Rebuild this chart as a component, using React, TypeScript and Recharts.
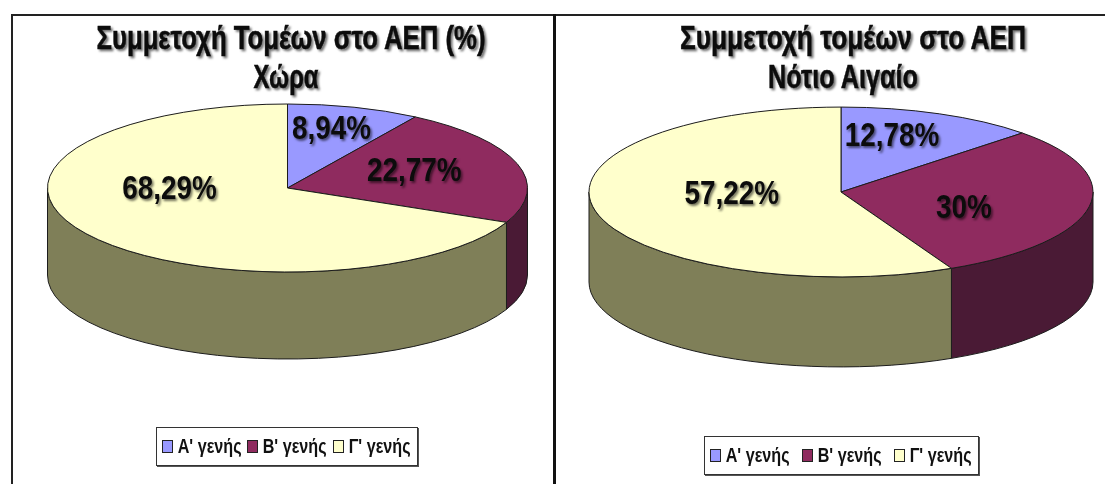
import { Legend, Pie, PieChart } from "recharts";

const categories = ["Α' γενής", "Β' γενής", "Γ' γενής"];
const countryShares = [8.94, 22.77, 68.29];
const aegeanShares = [12.78, 30, 57.22];

const topColors = ["#9999ff", "#8f2b5f", "#ffffcc"];
const sideColors = ["#4c4c80", "#4a1a35", "#7f7f58"];

const FONT = "'Liberation Sans', Arial, sans-serif";
const SHADOW = "drop-shadow(2px 2px 1.2px rgba(0,0,0,0.55))";

const toTable = (values: number[]) =>
  categories.map((name, i) => ({ name, value: values[i], fill: topColors[i] }));

const formatShare = (v: number) => `${String(v).replace(".", ",")}%`;

// Flattened pie slice: recharts gives the angles, we squash them on to an ellipse
function Slice(props: any) {
  const { cx, cy, outerRadius: rx, startAngle, endAngle, index, tilt, depth } = props;
  const ry = rx * tilt;
  const b0 = 90 - startAngle;
  const b1 = 90 - endAngle;
  const pt = (b: number, dy = 0) => {
    const r = (b * Math.PI) / 180;
    return `${cx + rx * Math.sin(r)} ${cy - ry * Math.cos(r) + dy}`;
  };
  const large = b1 - b0 > 180 ? 1 : 0;
  const s0 = Math.max(b0, 90);
  const s1 = Math.min(b1, 270);
  return (
    <g>
      {s1 > s0 && (
        <path
          d={`M${pt(s0)} A${rx} ${ry} 0 0 1 ${pt(s1)} L${pt(s1, depth)} A${rx} ${ry} 0 0 0 ${pt(s0, depth)} Z`}
          fill={sideColors[index]}
          stroke="#1c1c1c"
          strokeWidth={1}
        />
      )}
      <path
        d={`M${cx} ${cy} L${pt(b0)} A${rx} ${ry} 0 ${large} 1 ${pt(b1)} Z`}
        fill={topColors[index]}
        stroke="#1c1c1c"
        strokeWidth={1}
      />
    </g>
  );
}

function LegendBox({ payload, style }: any) {
  return (
    <div
      style={{
        display: "flex",
        alignItems: "center",
        justifyContent: "space-between",
        boxSizing: "border-box",
        height: "100%",
        padding: "0 5px",
        background: "#fff",
        border: "1px solid #333",
        boxShadow: "1px 1px 0 #555",
        fontFamily: FONT,
        color: "#111",
        whiteSpace: "nowrap",
        ...style,
      }}
    >
      {(payload ?? []).map((item: any, i: number) => (
        <span key={item.value} style={{ display: "flex", alignItems: "center", gap: 3 }}>
          <span
            style={{
              width: 9,
              height: 11,
              background: topColors[i],
              border: "1px solid #222",
            }}
          />
          <span
            style={{
              fontSize: 17,
              fontWeight: 700,
              display: "inline-block",
              transform: "scale(0.95, 1.2)",
            }}
          >
            {item.value}
          </span>
        </span>
      ))}
    </div>
  );
}

type PanelProps = {
  left: number;
  width: number;
  values: number[];
  titles: [string, string];
  titleWidths: [number, number];
  titleXs: [number, number];
  cx: number;
  cy: number;
  rx: number;
  tilt: number;
  depth: number;
  nudges: [number, number][];
  legendBox: { left: number; top: number; width: number; height: number };
};

function Panel(p: PanelProps) {
  const renderLabel = (l: any) => {
    const r = (l.midAngle * Math.PI) / 180;
    const x = l.cx + l.outerRadius * 0.6 * Math.cos(r) + p.nudges[l.index][0];
    const y = l.cy - l.outerRadius * p.tilt * 0.6 * Math.sin(r) + p.nudges[l.index][1];
    return (
      <text
        transform={`translate(${x} ${y}) scale(0.82 1)`}
        textAnchor="middle"
        dominantBaseline="central"
        fontFamily={FONT}
        fontWeight={700}
        fontSize={34}
        fill="#0c0c0c"
        style={{ filter: SHADOW }}
      >
        {formatShare(l.value)}
      </text>
    );
  };

  return (
    <div style={{ position: "absolute", left: p.left, top: 0, width: p.width, height: 484 }}>
      <PieChart width={p.width} height={484} margin={{ top: 0, right: 0, bottom: 0, left: 0 }}>
        {p.titles.map((t, i) => (
          <text
            key={t}
            x={p.titleXs[i]}
            y={49 + i * 39}
            textAnchor="middle"
            fontFamily={FONT}
            fontWeight={700}
            fontSize={33}
            fill="#0c0c0c"
            stroke="#0c0c0c"
            strokeWidth={0.5}
            textLength={p.titleWidths[i]}
            lengthAdjust="spacingAndGlyphs"
            style={{ filter: SHADOW }}
          >
            {t}
          </text>
        ))}
        <Pie
          data={toTable(p.values)}
          dataKey="value"
          nameKey="name"
          cx={p.cx}
          cy={p.cy}
          outerRadius={p.rx}
          startAngle={90}
          endAngle={-270}
          isAnimationActive={false}
          labelLine={false}
          label={renderLabel}
          shape={(s: any) => <Slice {...s} tilt={p.tilt} depth={p.depth} />}
        />
        <Legend
          content={<LegendBox />}
          layout="horizontal"
          wrapperStyle={{ position: "absolute", bottom: "auto", ...p.legendBox }}
        />
      </PieChart>
    </div>
  );
}

export default function App() {
  return (
    <div
      style={{
        position: "absolute",
        left: 0,
        top: 0,
        width: 1105,
        height: 484,
        background: "#fff",
        overflow: "hidden",
        filter: "blur(0.6px)",
      }}
    >
      <div style={{ position: "absolute", left: 11, top: 14, width: 1094, height: 2, background: "#222" }} />
      <div style={{ position: "absolute", left: 11, top: 14, width: 2, height: 470, background: "#222" }} />
      <div style={{ position: "absolute", left: 553, top: 14, width: 3, height: 470, background: "#111" }} />
      <Panel
        left={0}
        width={553}
        values={countryShares}
        titles={["Συμμετοχή Τομέων στο ΑΕΠ (%)", "Χώρα"]}
        titleWidths={[389, 65]}
        titleXs={[291, 286]}
        cx={287.5}
        cy={188}
        rx={240}
        tilt={0.35}
        depth={87}
        nudges={[
          [4, -12],
          [-11, -4],
          [3, -28],
        ]}
        legendBox={{ left: 156, top: 427, width: 262, height: 39 }}
      />
      <Panel
        left={556}
        width={549}
        values={aegeanShares}
        titles={["Συμμετοχή τομέων στο ΑΕΠ", "Νότιο Αιγαίο"]}
        titleWidths={[346, 150]}
        titleXs={[297, 287]}
        cx={285}
        cy={192}
        rx={252}
        tilt={0.337}
        depth={90}
        nudges={[
          [-8, -11],
          [-26, 6],
          [38, -11],
        ]}
        legendBox={{ left: 148, top: 436, width: 275, height: 39 }}
      />
    </div>
  );
}
